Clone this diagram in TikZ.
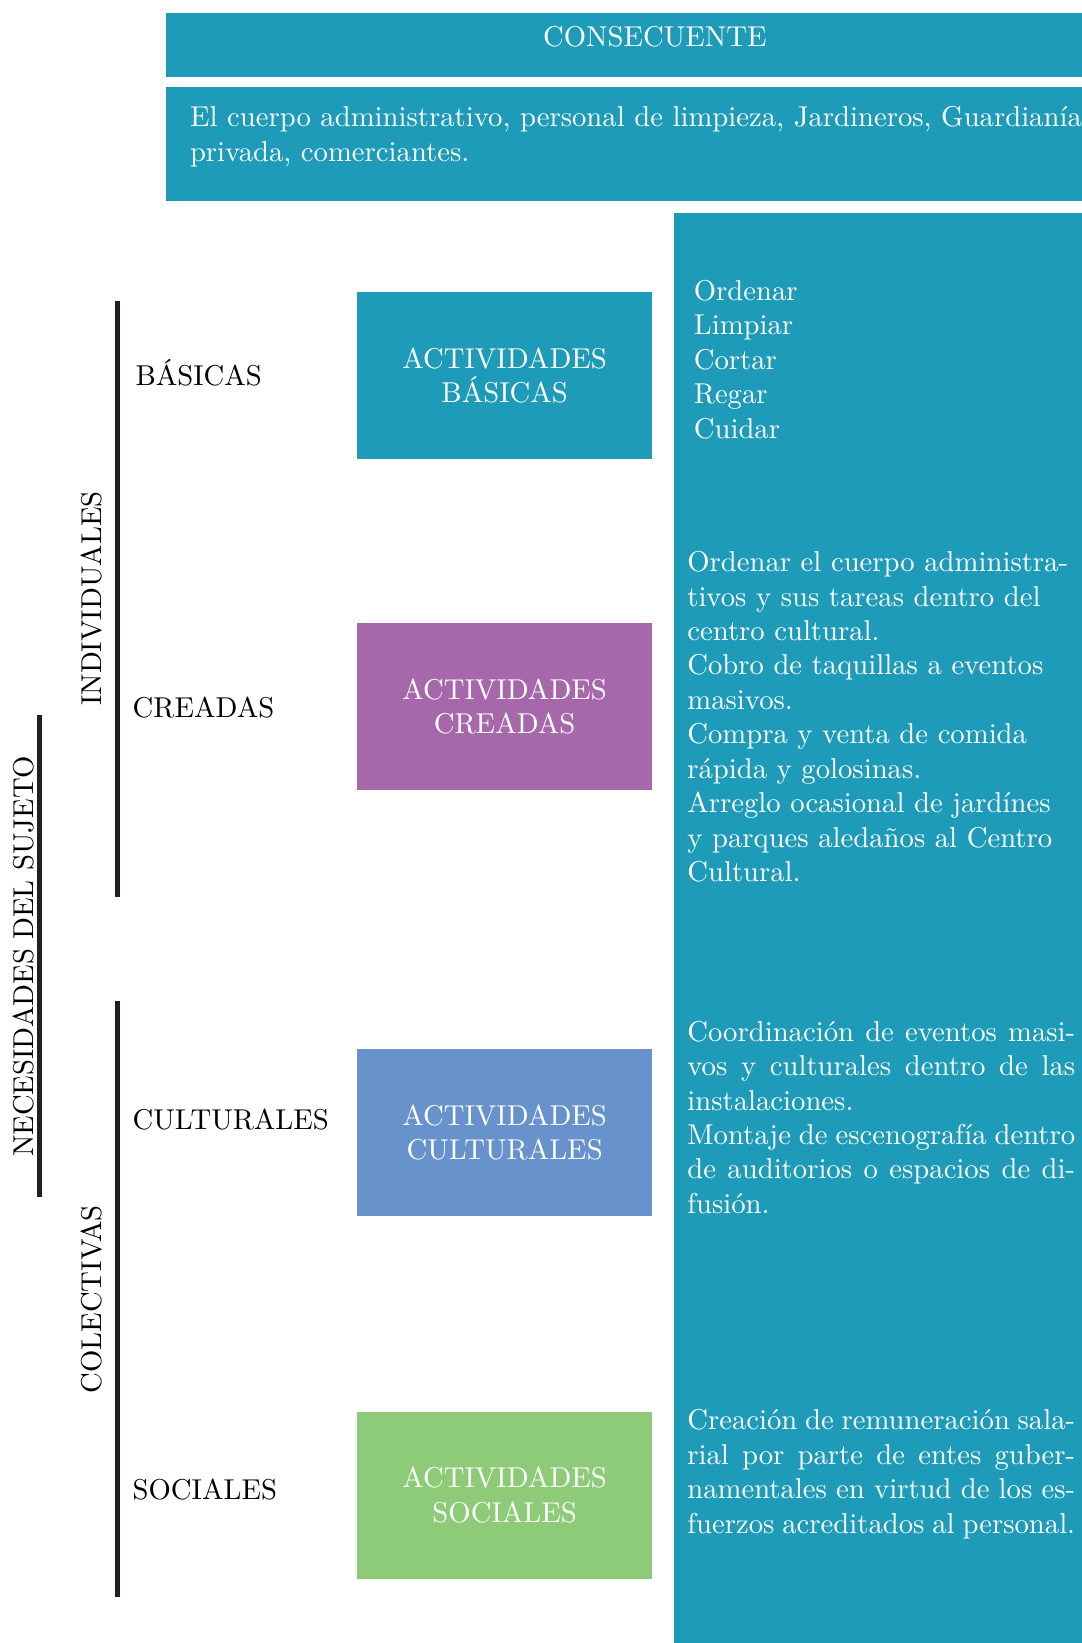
\documentclass[tikz,border=0pt]{standalone}
\usepackage{tikz}
\usetikzlibrary{calc,positioning}
\definecolor{nsteal}{RGB}{29,155,185}
\definecolor{nspurple}{RGB}{167,104,171}
\definecolor{nsblue}{RGB}{104,146,203}
\definecolor{nsgreen}{RGB}{141,203,121}
\definecolor{nsbar}{RGB}{35,31,32}

\begin{document}
\begin{tikzpicture}[font=\normalsize,
    blk/.style={fill=#1,draw=none,inner sep=0pt,anchor=north west},
    act/.style={fill=#1,draw=none,inner sep=0pt,minimum width=3.62cm,minimum height=2.04cm,text=white,align=center},
    lbl/.style={anchor=base west,inner sep=0pt},
    rlbl/.style={rotate=90,anchor=base,inner sep=0pt},
    wtxt/.style={text=white,anchor=base west,inner sep=0pt},
    ltxt/.style={wtxt,text width=4.75cm,align=left},
    jtxt/.style={wtxt,text width=4.75cm,align=justify},
    bar/.style={line width=1.8pt,draw=nsbar}]
    \useasboundingbox (0,0) rectangle (13.24,-20.12);
    \node[blk=nsteal,minimum width=11.21cm,minimum height=0.783cm] (cons) at (2.03,-0.154) {};
    \node[wtxt,anchor=base] (constxt) at (8.02,-0.572) {CONSECUENTE};
    \node[blk=nsteal,minimum width=11.21cm,minimum height=1.405cm] (desc) at (2.03,-1.053) {};
    \node[wtxt,text width=11cm,align=left] (desctxt) at (2.32,-1.551) {El cuerpo administrativo, personal de limpieza, Jardineros, Guardianía\\privada, comerciantes.};
    \node[blk=nsteal,minimum width=4.99cm,minimum height=17.516cm] (col) at (8.25,-2.604) {};
    % actividades
    \node[act=nsteal] (bas) at (6.18,-4.60) {ACTIVIDADES\\BÁSICAS};
    \node[act=nspurple] (cre) at (6.18,-8.65) {ACTIVIDADES\\CREADAS};
    \node[act=nsblue] (cul) at (6.18,-13.87) {ACTIVIDADES\\CULTURALES};
    \node[act=nsgreen] (soc) at (6.18,-18.31) {ACTIVIDADES\\SOCIALES};
    \node[lbl] (lbas) at ($(bas.west)+(-2.71,-0.12)$) {BÁSICAS};
    \node[lbl] (lcre) at ($(cre.west)+(-2.745,-0.14)$) {CREADAS};
    \node[lbl] (lcul) at ($(cul.west)+(-2.745,0.04)$) {CULTURALES};
    \node[lbl] (lsoc) at ($(soc.west)+(-2.745,-0.05)$) {SOCIALES};
    % llaves
    \coordinate (i1) at (1.437,-3.68);
    \coordinate (i2) at (1.437,-10.98);
    \coordinate (c1) at (1.437,-12.26);
    \coordinate (c2) at (1.437,-19.56);
    \coordinate (n1) at (0.488,-8.76);
    \coordinate (n2) at (0.488,-14.66);
    \draw[bar] (i1)--(i2);
    \draw[bar] (c1)--(c2);
    \draw[bar] (n1)--(n2);
    \node[rlbl] (indiv) at ($(i1)!.5!(i2)+(-0.19,0)$) {INDIVIDUALES};
    \node[rlbl] (colec) at ($(c1)!.5!(c2)+(-0.19,0)$) {COLECTIVAS};
    \node[rlbl] (neces) at ($(n1)!.5!(n2)+(-0.08,0)$) {NECESIDADES DEL SUJETO};
    % consecuentes
    \node[ltxt] (tbas) at (8.49,-3.68) {Ordenar\\Limpiar\\Cortar\\Regar\\Cuidar};
    \node[ltxt] (tcre) at (8.41,-7.00) {Ordenar el cuerpo administra-\\tivos y sus tareas dentro del\\centro cultural.\\Cobro de taquillas a eventos\\masivos.\\Compra y venta de comida\\rápida y golosinas.\\Arreglo ocasional de jardínes\\y parques aledaños al Centro\\Cultural.};
    \node[jtxt] (tcul) at (8.41,-12.75) {Coordinación de eventos masi-\linebreak vos y culturales dentro de las\linebreak instalaciones.\\Montaje de escenografía dentro\linebreak de auditorios o espacios de di-\linebreak fusión.};
    \node[jtxt] (tsoc) at (8.41,-17.51) {Creación de remuneración sala-\linebreak rial por parte de entes guber-\linebreak namentales en virtud de los es-\linebreak fuerzos acreditados al personal.};
  \end{tikzpicture}
\end{document}
